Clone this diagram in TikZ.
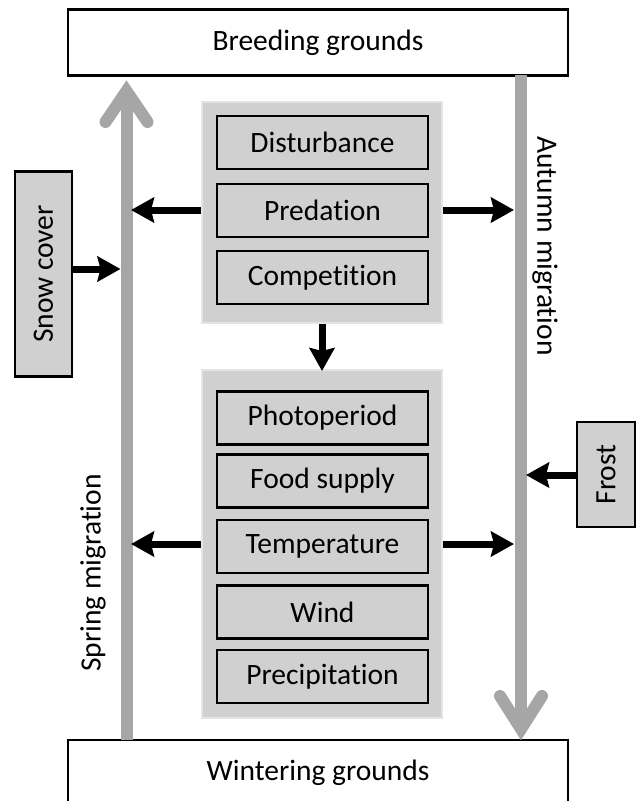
\documentclass[tikz,border=0pt]{standalone}
\usepackage{fontspec}
\setmainfont{Carlito}[Ligatures={NoCommon,NoRare}]
\usetikzlibrary{arrows.meta}
\definecolor{boxgray}{HTML}{D0D0D0}
\definecolor{edgegray}{HTML}{E4E4E4}
\definecolor{miggray}{HTML}{A6A6A6}
\begin{document}
\begin{tikzpicture}[x=1pt,y=-1pt,
  every node/.style={font=\fontsize{29.5}{35}\selectfont, inner sep=0pt},
  bigbox/.style={draw=black, line width=2.6pt, fill=white, minimum width=500pt},
  container/.style={draw=edgegray, line width=2pt, fill=boxgray, minimum width=240pt},
  factor/.style={draw=black, line width=2.4pt, fill=boxgray, minimum width=211pt, minimum height=53pt},
  sidebox/.style={draw=black, line width=2.2pt, fill=boxgray},
  blackarrow/.style={line width=7pt, -{Stealth[length=23pt,width=25pt,inset=3pt]}},
  migline/.style={draw=miggray, line width=12pt},
  chevron/.style={draw=miggray, line width=12pt, line cap=round, miter limit=20}]
\useasboundingbox (0,0) rectangle (636,801);
% ground boxes
\node[bigbox, minimum height=66pt] (breed) at (318,42.5) {Breeding grounds};
\node[bigbox, minimum height=72pt] (winter) at (318,776) {};
\node (wintertext) at (318,773) {Wintering grounds};
% migration lines
\coordinate (sprBot) at (126.5,740);
\coordinate (sprTip) at (126.5,91);
\coordinate (autTop) at (521,75);
\coordinate (autTip) at (521,729);
\draw[migline] (sprBot) -- (sprTip);
\draw[chevron] (105.5,122) -- (sprTip) -- (147.5,122);
\draw[migline] (autTop) -- (autTip);
\draw[chevron] (500,696) -- (autTip) -- (542,696);
\node[rotate=90] (spring) at (93,573) {Spring migration};
\node[rotate=-90] (autumn) at (545,246) {Autumn migration};
% containers
\node[container, minimum height=221pt] (top) at (322,212.5) {};
\node[container, minimum height=348pt] (bot) at (322,544) {};
\node[factor] (dist) at (322.5,142.5) {Disturbance};
\node[factor] (pred) at (322.5,210.5) {Predation};
\node[factor] (comp) at (322.5,277.5) {Competition};
\node[factor] (photo) at (322.5,418) {Photoperiod};
\node[factor] (food) at (322.5,481) {Food supply};
\node[factor] (temp) at (322.5,546.5) {Temperature};
\node[factor] (wind) at (322.5,612) {Wind};
\node[factor] (prec) at (322.5,676.5) {Precipitation};
% side boxes
\node[sidebox, minimum width=57pt, minimum height=205pt] (snow) at (43.5,274) {};
\node[rotate=90] (snowtext) at (43.5,274) {Snow cover};
\node[sidebox, minimum width=58pt, minimum height=105pt] (frost) at (606,474.5) {};
\node[rotate=90] (frosttext) at (606,474.5) {Frost};
% arrow end points
\coordinate (tL) at (131,210);
\coordinate (tR) at (514,210);
\coordinate (bL) at (131,544);
\coordinate (bR) at (514,544);
\coordinate (snowEnd) at (120.5,269);
\coordinate (frostEnd) at (526,475);
\coordinate (downEnd) at (322,371);
% black arrows
\draw[blackarrow] (top.west |- tL) -- (tL);
\draw[blackarrow] (top.east |- tR) -- (tR);
\draw[blackarrow] (bot.west |- bL) -- (bL);
\draw[blackarrow] (bot.east |- bR) -- (bR);
\draw[blackarrow] (snow.east |- snowEnd) -- (snowEnd);
\draw[blackarrow] (frost.west |- frostEnd) -- (frostEnd);
\draw[blackarrow] (top.south -| downEnd) -- (downEnd);
\end{tikzpicture}
\end{document}
